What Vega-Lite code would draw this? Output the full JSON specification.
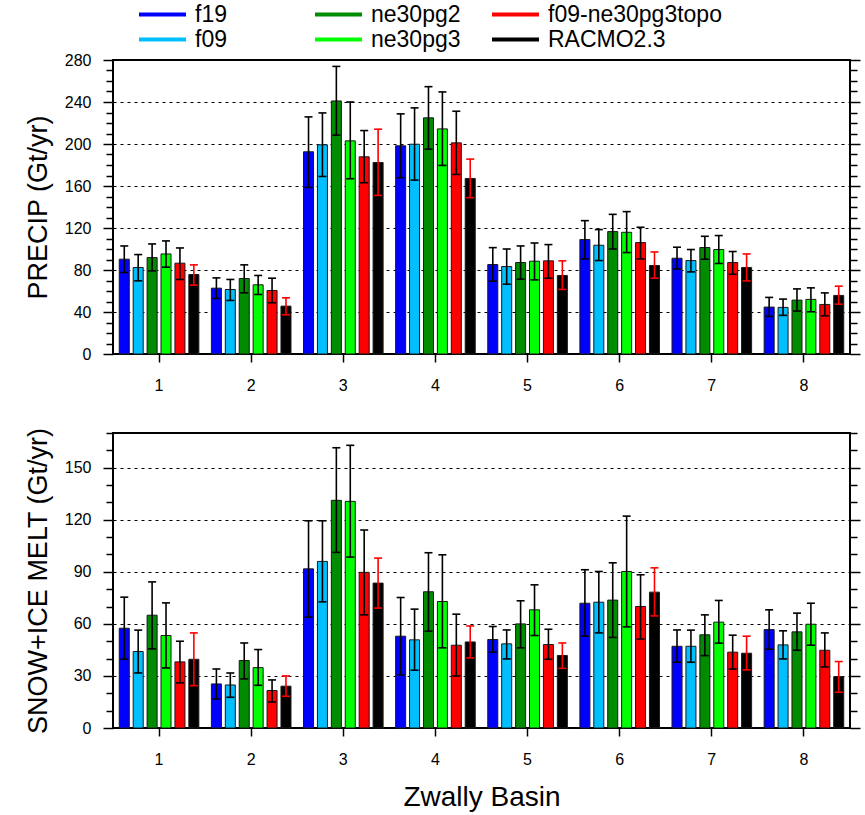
{
  "$schema": "https://vega.github.io/schema/vega-lite/v6.json",
  "padding": {"left": 23, "top": 2, "right": 5, "bottom": 5},
  "background": "white",
  "config": {
    "font": "Liberation Sans",
    "view": {"stroke": "black", "strokeWidth": 2},
    "axis": {"labelFont": "Liberation Sans", "titleFont": "Liberation Sans", "labelColor": "black", "titleColor": "black", "titleFontWeight": "normal", "domain": false, "tickColor": "black", "tickWidth": 1.5}
  },
  "datasets": {
    "d": [
      {"panel":"P","basin":"1","model":"f19","val":90.3,"lo":77.6,"hi":102.9},
      {"panel":"P","basin":"1","model":"f09","val":82.4,"lo":69.7,"hi":94.7},
      {"panel":"P","basin":"1","model":"ne30pg2","val":91.8,"lo":79.2,"hi":104.8},
      {"panel":"P","basin":"1","model":"ne30pg3","val":95.3,"lo":82.7,"hi":107.7},
      {"panel":"P","basin":"1","model":"f09-ne30pg3topo","val":86.5,"lo":71,"hi":101},
      {"panel":"P","basin":"1","model":"RACMO2.3","val":75.7,"lo":65.6,"hi":84.9},
      {"panel":"P","basin":"2","model":"f19","val":62.7,"lo":52.9,"hi":72.5},
      {"panel":"P","basin":"2","model":"f09","val":61.4,"lo":51,"hi":71},
      {"panel":"P","basin":"2","model":"ne30pg2","val":71.9,"lo":58.3,"hi":84.9},
      {"panel":"P","basin":"2","model":"ne30pg3","val":65.9,"lo":56.7,"hi":74.8},
      {"panel":"P","basin":"2","model":"f09-ne30pg3topo","val":60.5,"lo":48.8,"hi":72.2},
      {"panel":"P","basin":"2","model":"RACMO2.3","val":45.6,"lo":37.4,"hi":53.5},
      {"panel":"P","basin":"3","model":"f19","val":192.6,"lo":158.7,"hi":225.8},
      {"panel":"P","basin":"3","model":"f09","val":199.2,"lo":169.1,"hi":229.6},
      {"panel":"P","basin":"3","model":"ne30pg2","val":241,"lo":208.4,"hi":273.9},
      {"panel":"P","basin":"3","model":"ne30pg3","val":203,"lo":166.9,"hi":240},
      {"panel":"P","basin":"3","model":"f09-ne30pg3topo","val":187.8,"lo":163.1,"hi":212.8},
      {"panel":"P","basin":"3","model":"RACMO2.3","val":182.4,"lo":151,"hi":214.1},
      {"panel":"P","basin":"4","model":"f19","val":198.3,"lo":167.9,"hi":228.7},
      {"panel":"P","basin":"4","model":"f09","val":199.8,"lo":165.6,"hi":234.4},
      {"panel":"P","basin":"4","model":"ne30pg2","val":224.9,"lo":195.1,"hi":254.6},
      {"panel":"P","basin":"4","model":"ne30pg3","val":214.4,"lo":179.6,"hi":249.6},
      {"panel":"P","basin":"4","model":"f09-ne30pg3topo","val":201.1,"lo":171,"hi":231.2},
      {"panel":"P","basin":"4","model":"RACMO2.3","val":167.2,"lo":148.9,"hi":185.6},
      {"panel":"P","basin":"5","model":"f19","val":85.2,"lo":69.4,"hi":101.3},
      {"panel":"P","basin":"5","model":"f09","val":83.3,"lo":66.5,"hi":100},
      {"panel":"P","basin":"5","model":"ne30pg2","val":87.1,"lo":71.3,"hi":102.9},
      {"panel":"P","basin":"5","model":"ne30pg3","val":88.4,"lo":70.6,"hi":105.7},
      {"panel":"P","basin":"5","model":"f09-ne30pg3topo","val":88.7,"lo":72.2,"hi":104.2},
      {"panel":"P","basin":"5","model":"RACMO2.3","val":74.8,"lo":61.5,"hi":88.7},
      {"panel":"P","basin":"6","model":"f19","val":109,"lo":90.6,"hi":127},
      {"panel":"P","basin":"6","model":"f09","val":103.6,"lo":89,"hi":118.5},
      {"panel":"P","basin":"6","model":"ne30pg2","val":116.6,"lo":100,"hi":133},
      {"panel":"P","basin":"6","model":"ne30pg3","val":115.9,"lo":96.6,"hi":135.6},
      {"panel":"P","basin":"6","model":"f09-ne30pg3topo","val":106.1,"lo":90.6,"hi":120.7},
      {"panel":"P","basin":"6","model":"RACMO2.3","val":84.3,"lo":72.2,"hi":97.2},
      {"panel":"P","basin":"7","model":"f19","val":91.2,"lo":81,"hi":101.7},
      {"panel":"P","basin":"7","model":"f09","val":89,"lo":78.2,"hi":99.5},
      {"panel":"P","basin":"7","model":"ne30pg2","val":101.4,"lo":90.3,"hi":112.1},
      {"panel":"P","basin":"7","model":"ne30pg3","val":99.5,"lo":86.2,"hi":112.8},
      {"panel":"P","basin":"7","model":"f09-ne30pg3topo","val":87.1,"lo":76,"hi":97.6},
      {"panel":"P","basin":"7","model":"RACMO2.3","val":82.4,"lo":69.6,"hi":95.3},
      {"panel":"P","basin":"8","model":"f19","val":44.7,"lo":35.8,"hi":53.9},
      {"panel":"P","basin":"8","model":"f09","val":44.4,"lo":36.8,"hi":52.3},
      {"panel":"P","basin":"8","model":"ne30pg2","val":51.3,"lo":40.9,"hi":62},
      {"panel":"P","basin":"8","model":"ne30pg3","val":52,"lo":40.2,"hi":63},
      {"panel":"P","basin":"8","model":"f09-ne30pg3topo","val":47.2,"lo":36.4,"hi":58.2},
      {"panel":"P","basin":"8","model":"RACMO2.3","val":55.8,"lo":47.5,"hi":64.6},
      {"panel":"M","basin":"1","model":"f19","val":57.5,"lo":39.6,"hi":75.4},
      {"panel":"M","basin":"1","model":"f09","val":44.1,"lo":31.7,"hi":56.4},
      {"panel":"M","basin":"1","model":"ne30pg2","val":65,"lo":45.6,"hi":84.2},
      {"panel":"M","basin":"1","model":"ne30pg3","val":53.3,"lo":34.6,"hi":72.1},
      {"panel":"M","basin":"1","model":"f09-ne30pg3topo","val":38.1,"lo":26,"hi":50},
      {"panel":"M","basin":"1","model":"RACMO2.3","val":39.6,"lo":24.4,"hi":54.8},
      {"panel":"M","basin":"2","model":"f19","val":25.4,"lo":16.7,"hi":34},
      {"panel":"M","basin":"2","model":"f09","val":24.8,"lo":17.7,"hi":31.7},
      {"panel":"M","basin":"2","model":"ne30pg2","val":38.9,"lo":28.3,"hi":49},
      {"panel":"M","basin":"2","model":"ne30pg3","val":34.8,"lo":24.6,"hi":45.2},
      {"panel":"M","basin":"2","model":"f09-ne30pg3topo","val":21.6,"lo":15,"hi":27.7},
      {"panel":"M","basin":"2","model":"RACMO2.3","val":24.1,"lo":18.3,"hi":30},
      {"panel":"M","basin":"3","model":"f19","val":91.7,"lo":63.9,"hi":119.4},
      {"panel":"M","basin":"3","model":"f09","val":96,"lo":72.7,"hi":119.4},
      {"panel":"M","basin":"3","model":"ne30pg2","val":131.2,"lo":101.2,"hi":161.5},
      {"panel":"M","basin":"3","model":"ne30pg3","val":130.6,"lo":98.5,"hi":162.9},
      {"panel":"M","basin":"3","model":"f09-ne30pg3topo","val":89.7,"lo":65.2,"hi":114.1},
      {"panel":"M","basin":"3","model":"RACMO2.3","val":83.5,"lo":69.1,"hi":97.9},
      {"panel":"M","basin":"4","model":"f19","val":52.9,"lo":30.6,"hi":75.2},
      {"panel":"M","basin":"4","model":"f09","val":50.8,"lo":33.3,"hi":68.5},
      {"panel":"M","basin":"4","model":"ne30pg2","val":78.5,"lo":55.8,"hi":101},
      {"panel":"M","basin":"4","model":"ne30pg3","val":72.9,"lo":46.2,"hi":99.8},
      {"panel":"M","basin":"4","model":"f09-ne30pg3topo","val":47.7,"lo":30,"hi":65.6},
      {"panel":"M","basin":"4","model":"RACMO2.3","val":49.6,"lo":40.4,"hi":58.8},
      {"panel":"M","basin":"5","model":"f19","val":51,"lo":43.7,"hi":58.5},
      {"panel":"M","basin":"5","model":"f09","val":48.5,"lo":39.8,"hi":56.5},
      {"panel":"M","basin":"5","model":"ne30pg2","val":60,"lo":46.2,"hi":73.3},
      {"panel":"M","basin":"5","model":"ne30pg3","val":68.1,"lo":53.3,"hi":82.5},
      {"panel":"M","basin":"5","model":"f09-ne30pg3topo","val":48.1,"lo":39.6,"hi":56.9},
      {"panel":"M","basin":"5","model":"RACMO2.3","val":41.8,"lo":34.4,"hi":49},
      {"panel":"M","basin":"6","model":"f19","val":71.9,"lo":52.9,"hi":91.2},
      {"panel":"M","basin":"6","model":"f09","val":72.5,"lo":54.8,"hi":90.2},
      {"panel":"M","basin":"6","model":"ne30pg2","val":73.7,"lo":52.2,"hi":95.2},
      {"panel":"M","basin":"6","model":"ne30pg3","val":90.2,"lo":58.3,"hi":122.1},
      {"panel":"M","basin":"6","model":"f09-ne30pg3topo","val":70,"lo":51.3,"hi":88.3},
      {"panel":"M","basin":"6","model":"RACMO2.3","val":78.3,"lo":64.6,"hi":92.3},
      {"panel":"M","basin":"7","model":"f19","val":47.1,"lo":37.9,"hi":56.5},
      {"panel":"M","basin":"7","model":"f09","val":47.1,"lo":37.9,"hi":56.4},
      {"panel":"M","basin":"7","model":"ne30pg2","val":53.7,"lo":41.7,"hi":65.2},
      {"panel":"M","basin":"7","model":"ne30pg3","val":61,"lo":48.9,"hi":73.5},
      {"panel":"M","basin":"7","model":"f09-ne30pg3topo","val":43.7,"lo":34,"hi":53.5},
      {"panel":"M","basin":"7","model":"RACMO2.3","val":43.1,"lo":33.5,"hi":52.9},
      {"panel":"M","basin":"8","model":"f19","val":56.7,"lo":45.4,"hi":68.1},
      {"panel":"M","basin":"8","model":"f09","val":47.9,"lo":39.8,"hi":56},
      {"panel":"M","basin":"8","model":"ne30pg2","val":55.4,"lo":44.8,"hi":66.2},
      {"panel":"M","basin":"8","model":"ne30pg3","val":59.8,"lo":47.7,"hi":71.9},
      {"panel":"M","basin":"8","model":"f09-ne30pg3topo","val":44.8,"lo":35.2,"hi":54.8},
      {"panel":"M","basin":"8","model":"RACMO2.3","val":29.6,"lo":20.6,"hi":38.3}
    ]
  },
  "spacing": 32,
  "vconcat": [
    {
      "width": 737, "height": 294,
      "data": {"name": "d"},
      "transform": [{"filter": "datum.panel == 'P'"}],
      "layer": [
        {
          "mark": {"type": "bar"},
          "encoding": {
            "x": {"field": "basin", "type": "nominal", "scale": {"paddingInner": 0, "paddingOuter": 0}, "axis": {"title": null, "labelAngle": 0, "labelFontSize": 16, "tickSize": 8, "labelPadding": 15, "grid": false}},
            "xOffset": {"field": "model", "type": "nominal", "sort": ["f19", "f09", "ne30pg2", "ne30pg3", "f09-ne30pg3topo", "RACMO2.3"], "scale": {"paddingInner": 0.28, "paddingOuter": 0.45}},
            "y": {"field": "val", "type": "quantitative", "scale": {"domain": [0, 280], "nice": false}, "axis": {"orient": "left", "title": "PRECIP (Gt/yr)", "titleFontSize": 27, "titlePadding": 12, "values": [0,10,20,30,40,50,60,70,80,90,100,110,120,130,140,150,160,170,180,190,200,210,220,230,240,250,260,270,280], "labelExpr": "datum.value % 40 === 0 ? datum.label : ''", "labelFontSize": 16, "labelPadding": 12, "tickSize": {"condition": {"test": "datum.value % 40 === 0", "value": 10}, "value": 7}, "grid": true, "gridColor": "black", "gridDash": [3, 4], "gridWidth": 1, "gridOpacity": {"condition": {"test": "datum.value % 40 === 0 && datum.value > 0 && datum.value < 280", "value": 1}, "value": 0}}},
            "fill": {"field": "model", "type": "nominal", "scale": {"domain": ["f19", "f09", "ne30pg2", "ne30pg3", "f09-ne30pg3topo", "RACMO2.3"], "range": ["#0000ff", "#00bfff", "#008c00", "#00ff00", "#ff0000", "#000000"]},
              "legend": {"title": null, "orient": "none", "legendX": 24, "legendY": -58, "columns": 3, "columnPadding": 29, "rowPadding": 0, "clipHeight": 25, "symbolType": "stroke", "symbolSize": 2209, "symbolStrokeWidth": 4, "labelFontSize": 23, "labelOffset": 7, "labelLimit": 400, "labelColor": "black",
                "encode": {"entries": {"update": {"width": {"value": 147}}}, "symbols": {"update": {"stroke": {"scale": "fill", "field": "value"}, "strokeWidth": {"value": 4}}}}}}
          }
        },
        {
          "mark": {"type": "bar", "fillOpacity": 0, "stroke": "#1a1a1a", "strokeWidth": 1},
          "encoding": {
            "x": {"field": "basin", "type": "nominal"},
            "xOffset": {"field": "model", "type": "nominal", "sort": ["f19", "f09", "ne30pg2", "ne30pg3", "f09-ne30pg3topo", "RACMO2.3"]},
            "y": {"field": "val", "type": "quantitative", "axis": null}
          }
        },
        {
          "mark": {"type": "rule", "strokeWidth": 1.6},
          "encoding": {
            "x": {"field": "basin", "type": "nominal"},
            "xOffset": {"field": "model", "type": "nominal", "sort": ["f19", "f09", "ne30pg2", "ne30pg3", "f09-ne30pg3topo", "RACMO2.3"]},
            "y": {"field": "lo", "type": "quantitative", "axis": null},
            "y2": {"field": "hi"},
            "color": {"condition": {"test": "datum.model === 'RACMO2.3'", "value": "#ff0000"}, "value": "#000000"}
          }
        },
        {
          "mark": {"type": "tick", "size": 8, "thickness": 1.6, "opacity": 1},
          "encoding": {
            "x": {"field": "basin", "type": "nominal"},
            "xOffset": {"field": "model", "type": "nominal", "sort": ["f19", "f09", "ne30pg2", "ne30pg3", "f09-ne30pg3topo", "RACMO2.3"]},
            "y": {"field": "lo", "type": "quantitative", "axis": null},
            "color": {"condition": {"test": "datum.model === 'RACMO2.3'", "value": "#ff0000"}, "value": "#000000"}
          }
        },
        {
          "mark": {"type": "tick", "size": 8, "thickness": 1.6, "opacity": 1},
          "encoding": {
            "x": {"field": "basin", "type": "nominal"},
            "xOffset": {"field": "model", "type": "nominal", "sort": ["f19", "f09", "ne30pg2", "ne30pg3", "f09-ne30pg3topo", "RACMO2.3"]},
            "y": {"field": "hi", "type": "quantitative", "axis": null},
            "color": {"condition": {"test": "datum.model === 'RACMO2.3'", "value": "#ff0000"}, "value": "#000000"}
          }
        },
        {
          "mark": {"type": "rule", "opacity": 0},
          "encoding": {
            "y": {"field": "val", "type": "quantitative", "axis": {"orient": "right", "title": null, "labels": false, "grid": false, "values": [0,10,20,30,40,50,60,70,80,90,100,110,120,130,140,150,160,170,180,190,200,210,220,230,240,250,260,270,280], "tickSize": {"condition": {"test": "datum.value % 40 === 0", "value": 10}, "value": 7}}}
          }
        }
      ],
      "resolve": {"axis": {"y": "independent"}}
    },
    {
      "width": 737, "height": 295,
      "data": {"name": "d"},
      "transform": [{"filter": "datum.panel == 'M'"}],
      "layer": [
        {
          "mark": {"type": "bar"},
          "encoding": {
            "x": {"field": "basin", "type": "nominal", "scale": {"paddingInner": 0, "paddingOuter": 0}, "axis": {"title": "Zwally Basin", "titleFontSize": 28, "titlePadding": 16, "labelAngle": 0, "labelFontSize": 16, "tickSize": 8, "labelPadding": 15, "grid": false}},
            "xOffset": {"field": "model", "type": "nominal", "sort": ["f19", "f09", "ne30pg2", "ne30pg3", "f09-ne30pg3topo", "RACMO2.3"], "scale": {"paddingInner": 0.28, "paddingOuter": 0.45}},
            "y": {"field": "val", "type": "quantitative", "scale": {"domain": [0, 170], "nice": false}, "axis": {"orient": "left", "title": "SNOW+ICE MELT (Gt/yr)", "titleFontSize": 27, "titlePadding": 12, "values": [0,10,20,30,40,50,60,70,80,90,100,110,120,130,140,150,160,170], "labelExpr": "datum.value % 30 === 0 ? datum.label : ''", "labelFontSize": 16, "labelPadding": 12, "tickSize": {"condition": {"test": "datum.value % 30 === 0", "value": 10}, "value": 7}, "grid": true, "gridColor": "black", "gridDash": [3, 4], "gridWidth": 1, "gridOpacity": {"condition": {"test": "datum.value % 30 === 0 && datum.value > 0", "value": 1}, "value": 0}}},
            "fill": {"field": "model", "type": "nominal"}
          }
        },
        {
          "mark": {"type": "bar", "fillOpacity": 0, "stroke": "#1a1a1a", "strokeWidth": 1},
          "encoding": {
            "x": {"field": "basin", "type": "nominal"},
            "xOffset": {"field": "model", "type": "nominal", "sort": ["f19", "f09", "ne30pg2", "ne30pg3", "f09-ne30pg3topo", "RACMO2.3"]},
            "y": {"field": "val", "type": "quantitative", "axis": null}
          }
        },
        {
          "mark": {"type": "rule", "strokeWidth": 1.6},
          "encoding": {
            "x": {"field": "basin", "type": "nominal"},
            "xOffset": {"field": "model", "type": "nominal", "sort": ["f19", "f09", "ne30pg2", "ne30pg3", "f09-ne30pg3topo", "RACMO2.3"]},
            "y": {"field": "lo", "type": "quantitative", "axis": null},
            "y2": {"field": "hi"},
            "color": {"condition": {"test": "datum.model === 'RACMO2.3'", "value": "#ff0000"}, "value": "#000000"}
          }
        },
        {
          "mark": {"type": "tick", "size": 8, "thickness": 1.6, "opacity": 1},
          "encoding": {
            "x": {"field": "basin", "type": "nominal"},
            "xOffset": {"field": "model", "type": "nominal", "sort": ["f19", "f09", "ne30pg2", "ne30pg3", "f09-ne30pg3topo", "RACMO2.3"]},
            "y": {"field": "lo", "type": "quantitative", "axis": null},
            "color": {"condition": {"test": "datum.model === 'RACMO2.3'", "value": "#ff0000"}, "value": "#000000"}
          }
        },
        {
          "mark": {"type": "tick", "size": 8, "thickness": 1.6, "opacity": 1},
          "encoding": {
            "x": {"field": "basin", "type": "nominal"},
            "xOffset": {"field": "model", "type": "nominal", "sort": ["f19", "f09", "ne30pg2", "ne30pg3", "f09-ne30pg3topo", "RACMO2.3"]},
            "y": {"field": "hi", "type": "quantitative", "axis": null},
            "color": {"condition": {"test": "datum.model === 'RACMO2.3'", "value": "#ff0000"}, "value": "#000000"}
          }
        },
        {
          "mark": {"type": "rule", "opacity": 0},
          "encoding": {
            "y": {"field": "val", "type": "quantitative", "axis": {"orient": "right", "title": null, "labels": false, "grid": false, "values": [0,10,20,30,40,50,60,70,80,90,100,110,120,130,140,150,160,170], "tickSize": {"condition": {"test": "datum.value % 30 === 0", "value": 10}, "value": 7}}}
          }
        }
      ],
      "resolve": {"axis": {"y": "independent"}}
    }
  ],
  "resolve": {"scale": {"fill": "shared"}}
}
